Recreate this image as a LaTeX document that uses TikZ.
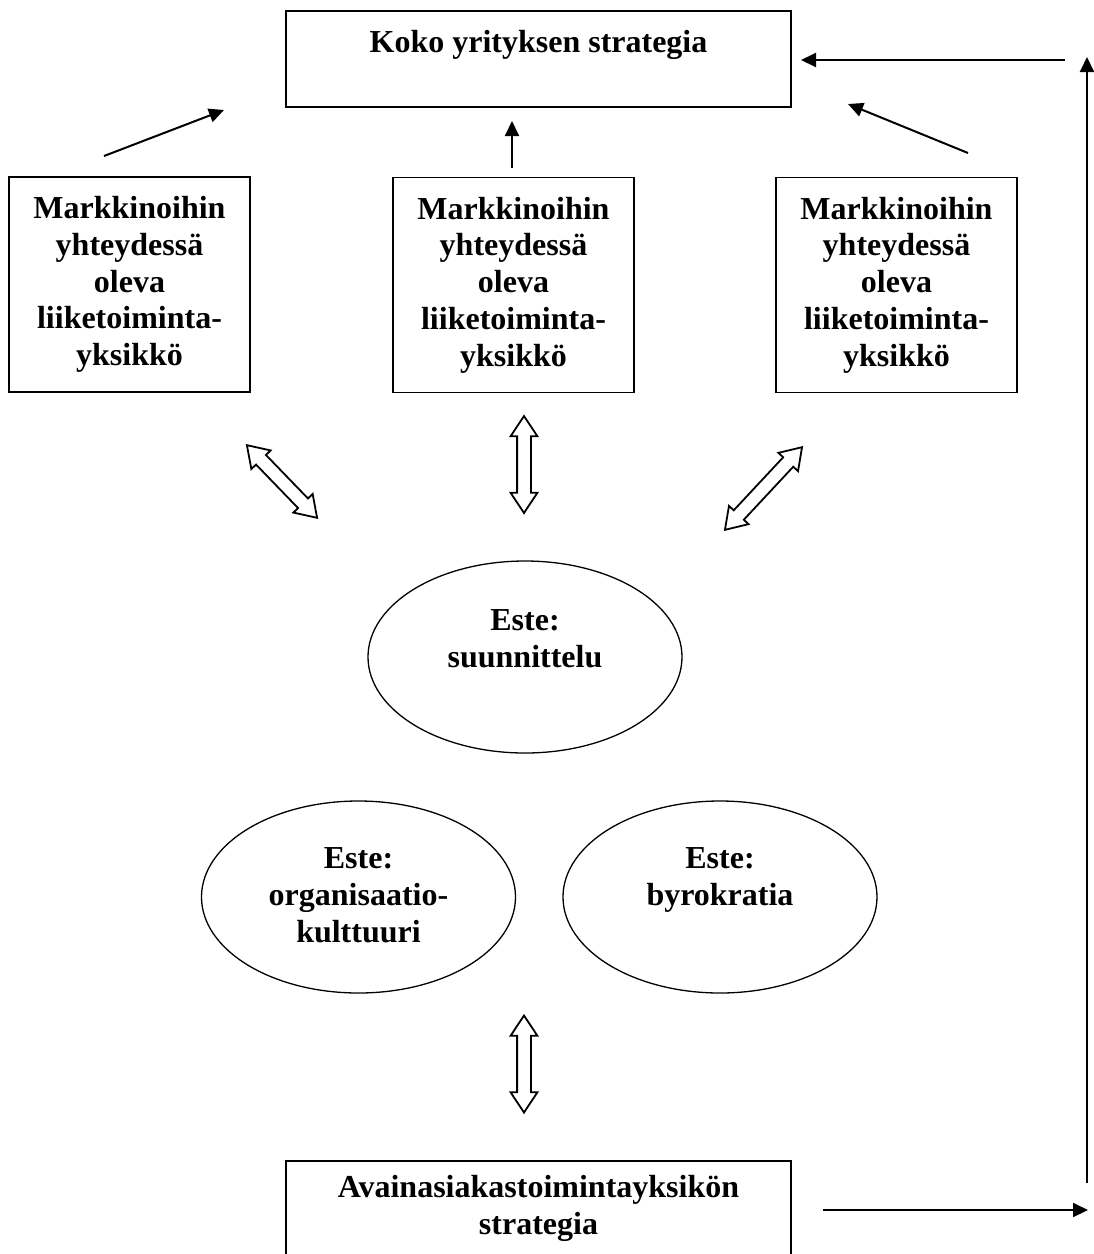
\documentclass[tikz,border=0pt]{standalone}
\usepackage{fontspec}
\setmainfont{Liberation Serif}
\usetikzlibrary{
    arrows.meta,
    positioning,
    shapes.geometric,
    shapes.arrows
}
\definecolor{lineBlack}{RGB}{0, 0, 0}
\definecolor{bgWhite}{RGB}{255, 255, 255}
\newcommand{\diagramFont}{\fontsize{32}{36.8}\selectfont\bfseries}
\tikzset{
    strategyBox/.style={
        rectangle,
        draw=lineBlack,
        line width=1.3pt,
        minimum width=505pt,
        inner sep=0pt
    },
    unitBox/.style={
        rectangle,
        draw=lineBlack,
        line width=1.3pt,
        minimum width=241pt,
        minimum height=215pt,
        inner sep=0pt,
        align=center,
        font=\diagramFont
    },
    barrier/.style={
        ellipse,
        draw=lineBlack,
        line width=1.3pt,
        minimum width=314pt,
        minimum height=192pt,
        inner sep=0pt
    },
    boxText/.style={
        font=\diagramFont,
        align=center,
        inner sep=0pt
    },
    thinArrow/.style={
        draw=lineBlack,
        line width=2pt,
        -{Triangle[length=15pt, width=14pt]}
    },
    hollowArrow/.style={
        double arrow,
        draw=lineBlack,
        fill=bgWhite,
        line width=1.8pt,
        inner sep=6pt,
        minimum width=25pt,
        double arrow head extend=6.5pt,
        double arrow tip angle=67
    }
}

\begin{document}
\begin{tikzpicture}[x=1pt, y=-1pt]
    \useasboundingbox (0,0) rectangle (1094,1254);

    % Top: company strategy
    \node[strategyBox, minimum height=96pt] (wholeStrategy) at (538.5, 59) {};
    \node[boxText, below=20pt of wholeStrategy.north] (wholeText) {Koko yrityksen strategia};

    % Market-facing business units
    \node[unitBox] (leftUnit) at (129.5, 284.5) {Markkinoihin\\yhteydessä\\oleva\\liiketoiminta-\\yksikkö};
    \node[unitBox] (midUnit) at (513.5, 285) {Markkinoihin\\yhteydessä\\oleva\\liiketoiminta-\\yksikkö};
    \node[unitBox] (rightUnit) at (896.5, 285) {Markkinoihin\\yhteydessä\\oleva\\liiketoiminta-\\yksikkö};

    % Barriers
    \node[barrier] (planning) at (525, 657) {};
    \node[boxText, below=49pt of planning.north] (planningText) {Este:\\suunnittelu};
    \node[barrier] (culture) at (358.5, 897) {};
    \node[boxText, below=47pt of culture.north] (cultureText) {Este:\\organisaatio-\\kulttuuri};
    \node[barrier] (bureaucracy) at (720, 897) {};
    \node[boxText, below=47pt of bureaucracy.north] (bureaucracyText) {Este:\\byrokratia};

    % Bottom: key account unit strategy
    \node[strategyBox, minimum height=97pt] (keyStrategy) at (538.5, 1209.5) {};
    \node[boxText, below=15pt of keyStrategy.north] (keyText) {Avainasiakastoimintayksikön\\strategia};

    % Two-way hollow arrows
    \node[hollowArrow, minimum height=101pt, rotate=-46] (leftLink) at (282, 481.5) {};
    \node[hollowArrow, minimum height=97pt, rotate=90] (midLink) at (524, 464.5) {};
    \node[hollowArrow, minimum height=113pt, rotate=47] (rightLink) at (763.5, 488.5) {};
    \node[hollowArrow, minimum height=97pt, rotate=90] (bottomLink) at (524, 1064) {};

    % Arrow end points
    \coordinate (leftTail) at (104, 156);
    \coordinate (leftTip) at (224, 110);
    \coordinate (midTail) at (512, 168);
    \coordinate (midTip) at (512, 121);
    \coordinate (rightTail) at (968, 153);
    \coordinate (rightTip) at (848, 104);
    \coordinate (topRight) at (1065, 60);
    \coordinate (topLeft) at (801, 60);
    \coordinate (sideBottom) at (1087, 1183);
    \coordinate (sideTop) at (1087, 57);
    \coordinate (bottomStart) at (823, 1210);
    \coordinate (bottomEnd) at (1088, 1210);

    % Connections
    \draw[thinArrow] (leftTail) -- (leftTip);
    \draw[thinArrow] (midTail) -- (midTip);
    \draw[thinArrow] (rightTail) -- (rightTip);
    \draw[thinArrow] (topRight) -- (topLeft);
    \draw[thinArrow] (sideBottom) -- (sideTop);
    \draw[thinArrow] (bottomStart) -- (bottomEnd);
\end{tikzpicture}
\end{document}
